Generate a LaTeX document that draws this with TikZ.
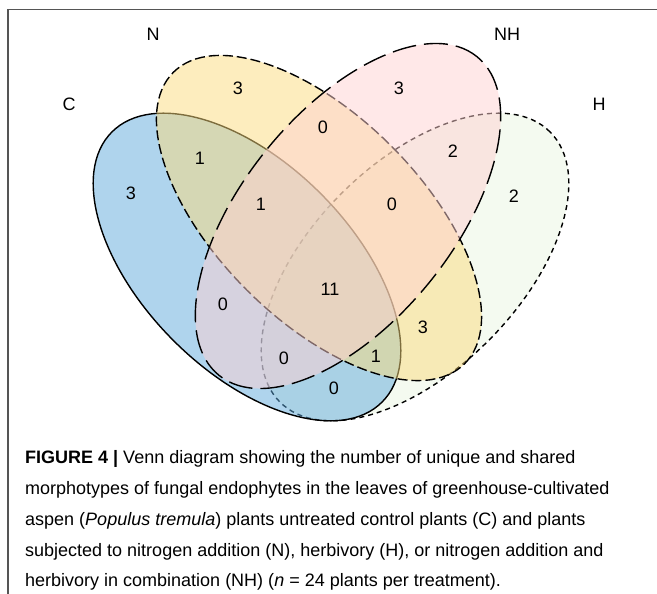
\documentclass[tikz,border=0pt]{standalone}
\usepackage{fontspec}
\setmainfont{Liberation Sans}
\usetikzlibrary{positioning}

\definecolor{setC}{RGB}{95,169,220}
\definecolor{setN}{RGB}{251,219,125}
\definecolor{setNH}{RGB}{255,209,209}
\definecolor{setH}{RGB}{233,245,225}
\definecolor{framegray}{RGB}{85,85,85}

\tikzset{
  venn/.style={fill opacity=0.5, draw=black, line width=1.4pt},
  count/.style={inner sep=0pt, font=\fontsize{18}{18}\selectfont},
  setname/.style={inner sep=0pt, font=\fontsize{18}{18}\selectfont},
  capline/.style={anchor=base west, inner sep=0pt, font=\fontsize{18}{18}\selectfont},
}

\begin{document}
\begin{tikzpicture}[x=1pt, y=-1pt]
    \useasboundingbox (0,0) rectangle (657,594);

    % frame
    \draw[framegray, line width=1.5pt] (8,594) -- (8,9.5) -- (657,9.5);

    \coordinate (cC) at (247,267);
    \coordinate (cN) at (319,218);
    \coordinate (cNH) at (348,216);
    \coordinate (cH) at (415,267);

    % sets
    \draw[venn, fill=setH, dash pattern=on 5pt off 4pt, rotate around={45:(cH)}]
      (cH) ellipse [x radius=191pt, y radius=104pt];
    \draw[venn, fill=setC, rotate around={-45:(cC)}]
      (cC) ellipse [x radius=191pt, y radius=104pt];
    \draw[venn, fill=setN, dash pattern=on 10pt off 4pt, rotate around={-45:(cN)}]
      (cN) ellipse [x radius=206pt, y radius=102pt];
    \draw[venn, fill=setNH, dash pattern=on 24pt off 8pt, rotate around={51:(cNH)}]
      (cNH) ellipse [x radius=205pt, y radius=105pt];

    % set names
    \node[setname] (lblC) at (69,104) {C};
    \node[setname] (lblN) at (153,34) {N};
    \node[setname] (lblNH) at (507,34) {NH};
    \node[setname] (lblH) at (599,104) {H};

    % counts
    \node[count] (nC) at (131,193) {3};
    \node[count] (nN) at (238,88) {3};
    \node[count] (nNH) at (399,88) {3};
    \node[count] (nH) at (514,196) {2};
    \node[count] (nCN) at (200,158) {1};
    \node[count] (nNNH) at (323,127) {0};
    \node[count] (nNHH) at (453,151) {2};
    \node[count] (nCNNH) at (261,204) {1};
    \node[count] (nNNHH) at (392,204) {0};
    \node[count] (nAll) at (330,289) {11};
    \node[count] (nCNH) at (223,304) {0};
    \node[count] (nNH2) at (423,327) {3};
    \node[count] (nCNHH) at (284,358) {0};
    \node[count] (nCNH2) at (376,356) {1};
    \node[count] (nCH) at (334,388) {0};

    % caption
    \node[capline] (cap1) at (25,463) {\textbf{FIGURE 4 |} Venn diagram showing the number of unique and shared};
    \node[capline] (cap2) at (25,494) {morphotypes of fungal endophytes in the leaves of greenhouse-cultivated};
    \node[capline] (cap3) at (25,525) {aspen (\textit{Populus tremula}) plants untreated control plants (C) and plants};
    \node[capline] (cap4) at (25,556) {subjected to nitrogen addition (N), herbivory (H), or nitrogen addition and};
    \node[capline] (cap5) at (25,586) {herbivory in combination (NH) (\textit{n} = 24 plants per treatment).};
\end{tikzpicture}
\end{document}
